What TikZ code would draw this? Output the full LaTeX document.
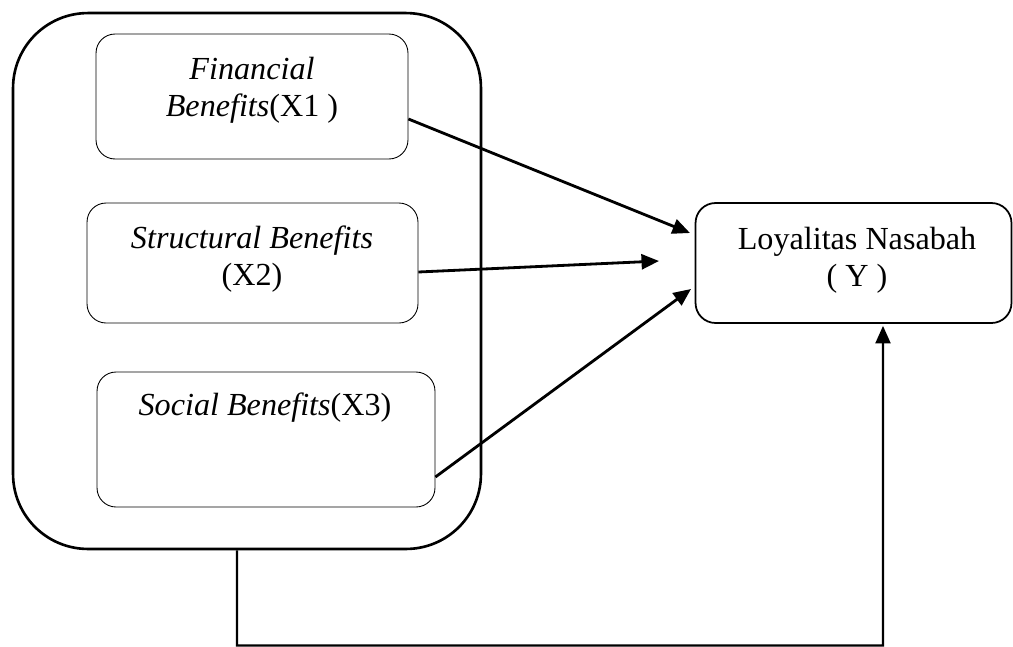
\documentclass[tikz,border=0pt]{standalone}
\usepackage{fontspec}
\setmainfont{Liberation Serif}[ItalicFont={Liberation Serif Italic}, BoldFont={Liberation Serif Bold}]
\usetikzlibrary{arrows.meta,positioning,calc}

\tikzset{
  box/.style={draw, rounded corners=0.38cm, line width=0.5pt},
  lbl/.style={font=\fontsize{18.3}{21}\selectfont, align=center, inner sep=0pt},
  arr/.style={line width=1.6pt, -{Triangle[length=3.5mm,width=3mm]}},
}

\begin{document}
\begin{tikzpicture}[x=0.02cm, y=-0.02cm]
\useasboundingbox (0,0) rectangle (1013,646);

% outer frame round the benefit variables
\node[draw, line width=1.5pt, rounded corners=1.5cm, minimum width=9.36cm, minimum height=10.72cm] (frame) at (247,281) {};

% independent variables
\node[box, minimum width=6.24cm, minimum height=2.5cm] (fb) at (252,96.5) {};
\node[lbl] (fbt) at (252,90) {\textit{Financial}\\\textit{Benefits}(X1 )};

\node[box, minimum width=6.62cm, minimum height=2.4cm] (stb) at (252.5,263) {};
\node[lbl] (stbt) at (252,259) {\textit{Structural Benefits}\\(X2)};

\node[box, minimum width=6.76cm, minimum height=2.7cm] (sob) at (266,439.5) {};
\node[lbl] (sobt) at (265,408) {\textit{Social Benefits}(X3)};

% dependent variable
\node[draw, line width=1pt, rounded corners=0.4cm, minimum width=6.32cm, minimum height=2.4cm] (ly) at (853.5,263) {};
\node[lbl] (lyt) at (857,260) {Loyalitas Nasabah\\( Y )};

% partial effects
\coordinate (t1) at (690,233);
\coordinate (t2) at (659,261);
\coordinate (t3) at (691,289);
\draw[arr] ([yshift=-4.5mm]fb.east) -- (t1);
\draw[arr] ([yshift=-1.8mm]stb.east) -- (t2);
\draw[arr] ([yshift=-7.5mm]sob.east) -- (t3);

% joint effect
\coordinate (base) at (237,645.5);
\draw[line width=1.2pt, -{Triangle[length=3.5mm,width=3mm]}] ([xshift=-2mm]frame.south) -- (base) -| ([xshift=5.9mm,yshift=-0.4mm]ly.south);

\end{tikzpicture}
\end{document}
